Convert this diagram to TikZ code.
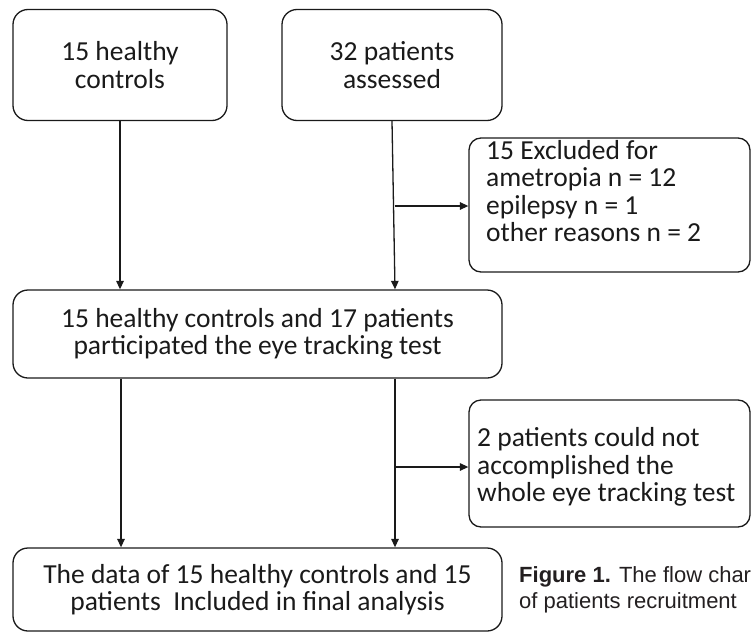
\documentclass[tikz,border=0pt]{standalone}
\usepackage{fontspec}
\setmainfont{Carlito}
\newfontfamily\capfont{Liberation Sans}
\usetikzlibrary{arrows.meta}
\definecolor{ink}{HTML}{1A1A1A}
\definecolor{capink}{HTML}{231F20}
\begin{document}
\begin{tikzpicture}[x=1pt,y=-1pt,
  boxtext/.style={text=ink,font=\fontsize{27.5}{27.5}\selectfont},
  box/.style={draw=ink,line width=1.3pt,rounded corners=15pt,align=center,
    inner sep=0pt,boxtext},
  frame/.style={draw=ink,line width=1.3pt,rounded corners=12pt,inner sep=0pt},
  sidetext/.style={boxtext,align=left,inner sep=0pt},
  arr/.style={draw=ink,line width=1.3pt,-{Triangle[length=8.5pt,width=7.5pt]}},
  captext/.style={text=capink,font=\capfont\fontsize{22}{26}\selectfont,align=left,inner sep=0pt}]
\useasboundingbox (0,0) rectangle (751,634);
\node[box,minimum width=214pt,minimum height=111pt] (b1) at (120,65) {15 healthy\\controls};
\node[box,minimum width=220pt,minimum height=111pt] (b2) at (392,65) {32 patients\\assessed};
\path (120,63.5) coordinate (b1c) (392,63.5) coordinate (b2c);
\node[frame,minimum width=281pt,minimum height=134pt] (b3) at (609.5,205) {};
\node[sidetext,anchor=north west] (t3) at (486,140)
  {15 Excluded for\\ametropia n = 12\\epilepsy n = 1\\other reasons n = 2};
\node[box,minimum width=489pt,minimum height=88pt] (b4) at (257.5,334)
  {15 healthy controls and 17 patients\\participated the eye tracking test};
\node[frame,minimum width=281pt,minimum height=127pt] (b5) at (609.5,463.5) {};
\node[sidetext,anchor=west] (t5) at (477,467)
  {2 patients could not\\accomplished the\\whole eye tracking test};
\node[box,minimum width=489pt,minimum height=83pt] (b6) at (257.5,589.5)
  {The data of 15 healthy controls and 15\\patients\ \ Included in final analysis};
\node[captext,anchor=north west] (cap) at (519,566)
  {\textbf{Figure 1.} The flow char\\of patients recruitment};
% connectors
\draw[arr] (b1.south) -- (b1.south |- b4.north);
\coordinate (b2end) at ([xshift=3pt]b2.south |- b4.north);
\draw[arr] (b2.south) -- (b2end);
\coordinate (j1) at (394.5,206);
\draw[arr] (j1) -- (j1 -| b3.west);
\coordinate (c1) at (121,0);
\coordinate (c2) at (395,0);
\draw[arr] (c1 |- b4.south) -- (c1 |- b6.north);
\draw[arr] (c2 |- b4.south) -- (c2 |- b6.north);
\coordinate (j2) at (395,467);
\draw[arr] (j2) -- (j2 -| b5.west);
\end{tikzpicture}
\end{document}
